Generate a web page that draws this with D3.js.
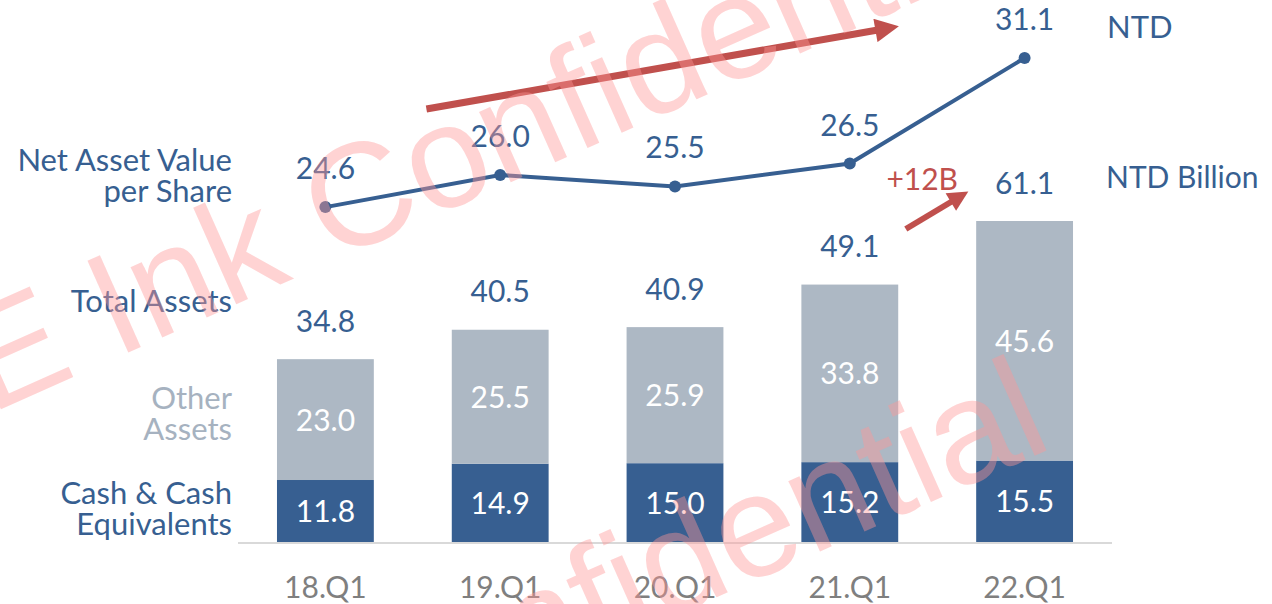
<!DOCTYPE html>
<html>
<head>
<meta charset="utf-8">
<script src="https://cdn.jsdelivr.net/npm/d3@7"></script>
<style>
  body { margin: 0; background: #fff; }
  svg { display: block; font-family: Lato, "Open Sans", sans-serif; }
</style>
</head>
<body>
<div id="chart"></div>
<script>
// chart data
const quarters = ["18.Q1", "19.Q1", "20.Q1", "21.Q1", "22.Q1"];
const cashValues = [11.8, 14.9, 15.0, 15.2, 15.5];
const otherValues = [23.0, 25.5, 25.9, 33.8, 45.6];
const totalValues = [34.8, 40.5, 40.9, 49.1, 61.1];
const navValues = [24.6, 26.0, 25.5, 26.5, 31.1];

const width = 1272, height = 604;
const blue = "#375f91", grey = "#adb8c4", red = "#c0504d";
const fs = 30;

const svg = d3.select("#chart").append("svg")
  .attr("width", width)
  .attr("height", height);

// scales
const x = d3.scaleBand().domain(quarters).range([238, 1112])
  .paddingInner(0.446).paddingOuter(0.223);
const yBar = d3.scaleLinear().domain([0, d3.max(totalValues)]).range([542, 221]);
const yLine = d3.scaleLinear().domain([10, d3.max(navValues)]).range([542, 58]);
const cx = q => x(q) + x.bandwidth() / 2;

const rows = quarters.map((q, i) => ({
  q, cash: cashValues[i], other: otherValues[i], total: totalValues[i], nav: navValues[i]
}));

// stacked bars
const stack = d3.stack().keys(["cash", "other"])(rows);
const colors = { cash: blue, other: grey };

svg.append("g").selectAll("g")
  .data(stack)
  .join("g")
  .attr("fill", d => colors[d.key])
  .selectAll("rect")
  .data(d => d)
  .join("rect")
  .attr("x", d => x(d.data.q))
  .attr("width", x.bandwidth())
  .attr("y", d => yBar(d[1]))
  .attr("height", d => yBar(d[0]) - yBar(d[1]));

// labels inside the segments
svg.append("g").selectAll("text")
  .data(stack.flatMap(s => s.map(d => ({ key: s.key, d }))))
  .join("text")
  .attr("x", e => cx(e.d.data.q))
  .attr("y", e => (yBar(e.d[0]) + yBar(e.d[1])) / 2 + 11)
  .attr("text-anchor", "middle")
  .attr("fill", "#fff")
  .attr("font-size", fs)
  .text(e => e.d.data[e.key].toFixed(1));

// totals above the bars
svg.append("g").selectAll("text")
  .data(rows)
  .join("text")
  .attr("x", d => cx(d.q))
  .attr("y", d => yBar(d.total) - 27)
  .attr("text-anchor", "middle")
  .attr("fill", blue)
  .attr("font-size", fs)
  .text(d => d.total.toFixed(1));

// baseline + category labels
svg.append("line")
  .attr("x1", x.range()[0]).attr("x2", x.range()[1])
  .attr("y1", yBar(0) + 1).attr("y2", yBar(0) + 1)
  .attr("stroke", "#d9d9d9").attr("stroke-width", 2);

const xAxis = svg.append("g")
  .attr("transform", `translate(0,${yBar(0) + 1})`)
  .call(d3.axisBottom(x).tickSize(0).tickPadding(34));
xAxis.select(".domain").remove();
xAxis.selectAll("text")
  .attr("font-family", "Lato, sans-serif")
  .attr("font-size", fs)
  .attr("fill", "#7f7f7f");

// NAV per share line
const line = d3.line().x(d => cx(d.q)).y(d => yLine(d.nav));
svg.append("path")
  .datum(rows)
  .attr("d", line)
  .attr("fill", "none")
  .attr("stroke", blue)
  .attr("stroke-width", 4);

svg.append("g").selectAll("circle")
  .data(rows)
  .join("circle")
  .attr("cx", d => cx(d.q))
  .attr("cy", d => yLine(d.nav))
  .attr("r", 6)
  .attr("fill", blue);

svg.append("g").selectAll("text")
  .data(rows)
  .join("text")
  .attr("x", d => cx(d.q))
  .attr("y", d => yLine(d.nav) - 28)
  .attr("text-anchor", "middle")
  .attr("fill", blue)
  .attr("font-size", fs)
  .text(d => d.nav.toFixed(1));

// left-hand series labels
const sideLabels = [
  { lines: ["Net Asset Value", "per Share"], y: 161, color: blue },
  { lines: ["Total Assets"], y: 302, color: blue },
  { lines: ["Other", "Assets"], y: 399, color: "#a6b2c0" },
  { lines: ["Cash & Cash", "Equivalents"], y: 494, color: blue }
];
sideLabels.forEach(l => {
  const t = svg.append("text")
    .attr("text-anchor", "end")
    .attr("fill", l.color)
    .attr("font-size", 31);
  l.lines.forEach((s, i) => {
    t.append("tspan").attr("x", 232).attr("y", l.y + 10 + i * 31).text(s);
  });
});

// units
svg.append("text").attr("x", 1107).attr("y", 38)
  .attr("fill", blue).attr("font-size", 31).text("NTD");
svg.append("text").attr("x", 1106).attr("y", 188)
  .attr("fill", blue).attr("font-size", 30).text("NTD Billion");

// red annotation arrows
const defs = svg.append("defs");
defs.append("marker")
  .attr("id", "head")
  .attr("viewBox", "0 0 10 10")
  .attr("refX", 1).attr("refY", 5)
  .attr("markerWidth", 4).attr("markerHeight", 3.4)
  .attr("orient", "auto")
  .append("path").attr("d", "M0,0L10,5L0,10Z").attr("fill", red);

const arrow = (x1, y1, x2, y2, w) => svg.append("line")
  .attr("x1", x1).attr("y1", y1).attr("x2", x2).attr("y2", y2)
  .attr("stroke", red).attr("stroke-width", w)
  .attr("marker-end", "url(#head)");

// long arrow over the NAV line, short arrow between the last two totals
arrow(cx(quarters[0]) + 101, yLine(navValues[1]) - 66, cx(quarters[3]) + 28, yLine(navValues[4]) - 28, 7);
arrow(cx(quarters[3]) + 56, yBar(totalValues[3]) - 55, cx(quarters[4]) - 72, yBar(totalValues[4]) - 20, 6);

const growth = Math.round(totalValues[4] - totalValues[3]);
svg.append("text")
  .attr("x", (cx(quarters[3]) + cx(quarters[4])) / 2 - 15)
  .attr("y", yBar(totalValues[3]) - 94)
  .attr("text-anchor", "middle")
  .attr("fill", red).attr("font-size", fs)
  .text(`+${growth}B`);

// watermark
const wm = svg.append("g").attr("pointer-events", "none");
[[-10, 414], [10, 912]].forEach(([wx, wy]) => {
  wm.append("text")
    .attr("transform", `translate(${wx},${wy}) rotate(-24)`)
    .attr("font-family", "'Liberation Sans', Arial, sans-serif")
    .attr("font-size", 146)
    .attr("fill", "#ff9696")
    .attr("fill-opacity", 0.42)
    .text("E Ink Confidential");
});
</script>
</body>
</html>
